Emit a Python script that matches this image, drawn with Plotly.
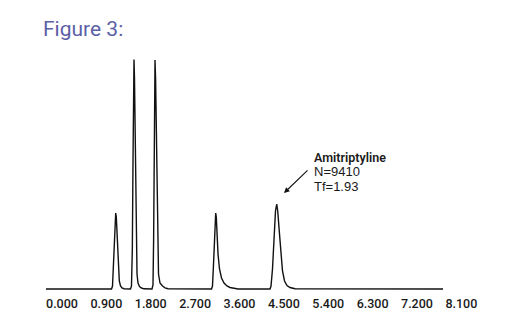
import plotly.graph_objects as go

# Chromatogram trace: retention time (min) and detector signal (arbitrary units)
time_min = [
    0.000,
    1.329, 1.349, 1.369, 1.390, 1.406, 1.414, 1.426, 1.444, 1.465, 1.487, 1.511, 1.542, 1.582,
    1.714, 1.734, 1.751, 1.765, 1.777, 1.785, 1.795, 1.811, 1.830, 1.846, 1.866, 1.897, 1.937, 1.988,
    2.150, 2.170, 2.183, 2.195, 2.205, 2.211, 2.223, 2.241, 2.262, 2.282, 2.312, 2.363, 2.414, 2.475,
    3.357, 3.377, 3.398, 3.418, 3.432, 3.442, 3.454, 3.469, 3.489, 3.519, 3.560, 3.611, 3.671, 3.732, 3.813, 3.895,
    4.544, 4.564, 4.594, 4.625, 4.655, 4.680, 4.700, 4.736, 4.767, 4.797, 4.838, 4.888, 4.949, 5.051,
    8.053,
]
signal = [
    0.0,
    0.0, 3.0, 25.0, 55.0, 73.0, 76.0, 72.0, 50.0, 22.0, 8.0, 3.0, 1.0, 0.3,
    0.0, 3.0, 40.0, 130.0, 210.0, 229.5, 210.0, 130.0, 50.0, 15.0, 6.0, 2.5, 1.0, 0.2,
    0.0, 4.0, 50.0, 150.0, 220.0, 229.0, 210.0, 130.0, 50.0, 15.0, 6.0, 3.0, 1.2, 0.3,
    0.0, 3.0, 25.0, 58.0, 73.0, 76.0, 72.0, 55.0, 35.0, 20.0, 11.0, 6.0, 3.0, 1.5, 0.5, 0.0,
    0.0, 3.0, 20.0, 50.0, 78.0, 85.0, 78.0, 55.0, 35.0, 18.0, 8.0, 3.5, 1.5, 0.3,
    0.0,
]

tick_values = [0.0, 0.9, 1.8, 2.7, 3.6, 4.5, 5.4, 6.3, 7.2, 8.1]
tick_labels = ["0.000", "0.900", "1.800", "2.700", "3.600", "4.500", "5.400", "6.300", "7.200", "8.100"]

title_text = "Figure 3:"
peak_label = "Amitriptyline"
peak_stats = ["N=9410", "Tf=1.93"]
arrow_target = (4.828, 96.0)
label_x = 5.40
label_rows_y = [132.0, 117.5, 102.5]

fig = go.Figure()
fig.add_trace(go.Scatter(
    x=time_min, y=signal, mode="lines",
    line=dict(color="#111111", width=1.4),
    hoverinfo="skip", showlegend=False,
))

fig.update_layout(
    width=523, height=328,
    margin=dict(l=0, r=0, t=50, b=36),
    paper_bgcolor="white", plot_bgcolor="white",
    xaxis=dict(
        range=[-0.933, 9.675],
        tickmode="array", tickvals=tick_values, ticktext=tick_labels,
        showgrid=False, zeroline=False, showline=False, ticks="",
        ticklabelshift=16, ticklabelstandoff=2,
        tickfont=dict(family="Roboto", size=12.5, color="#1a1a1a", weight=500),
    ),
    yaxis=dict(
        range=[-3, 239], visible=False,
    ),
)

fig.add_annotation(
    xref="paper", yref="paper", x=0.078, y=1.088,
    xanchor="left", yanchor="middle", showarrow=False,
    text=title_text,
    font=dict(family="Roboto", size=21, color="#5b5fa6"),
)

fig.add_annotation(
    x=arrow_target[0], y=arrow_target[1], xref="x", yref="y",
    ax=25, ay=-24, text="", showarrow=True,
    arrowhead=2, arrowsize=1, arrowwidth=1.1, arrowcolor="#111111",
)

rows = [peak_label] + peak_stats
row_fonts = [
    dict(family="Roboto", size=12.5, color="#1a1a1a", weight=600),
    dict(family="Liberation Sans", size=13, color="#1a1a1a"),
    dict(family="Liberation Sans", size=13, color="#1a1a1a"),
]
for txt, yv, fnt in zip(rows, label_rows_y, row_fonts):
    fig.add_annotation(
        x=label_x, y=yv, xref="x", yref="y",
        xanchor="left", yanchor="middle", showarrow=False,
        text=txt, font=fnt,
    )

fig.write_html("out.html")
